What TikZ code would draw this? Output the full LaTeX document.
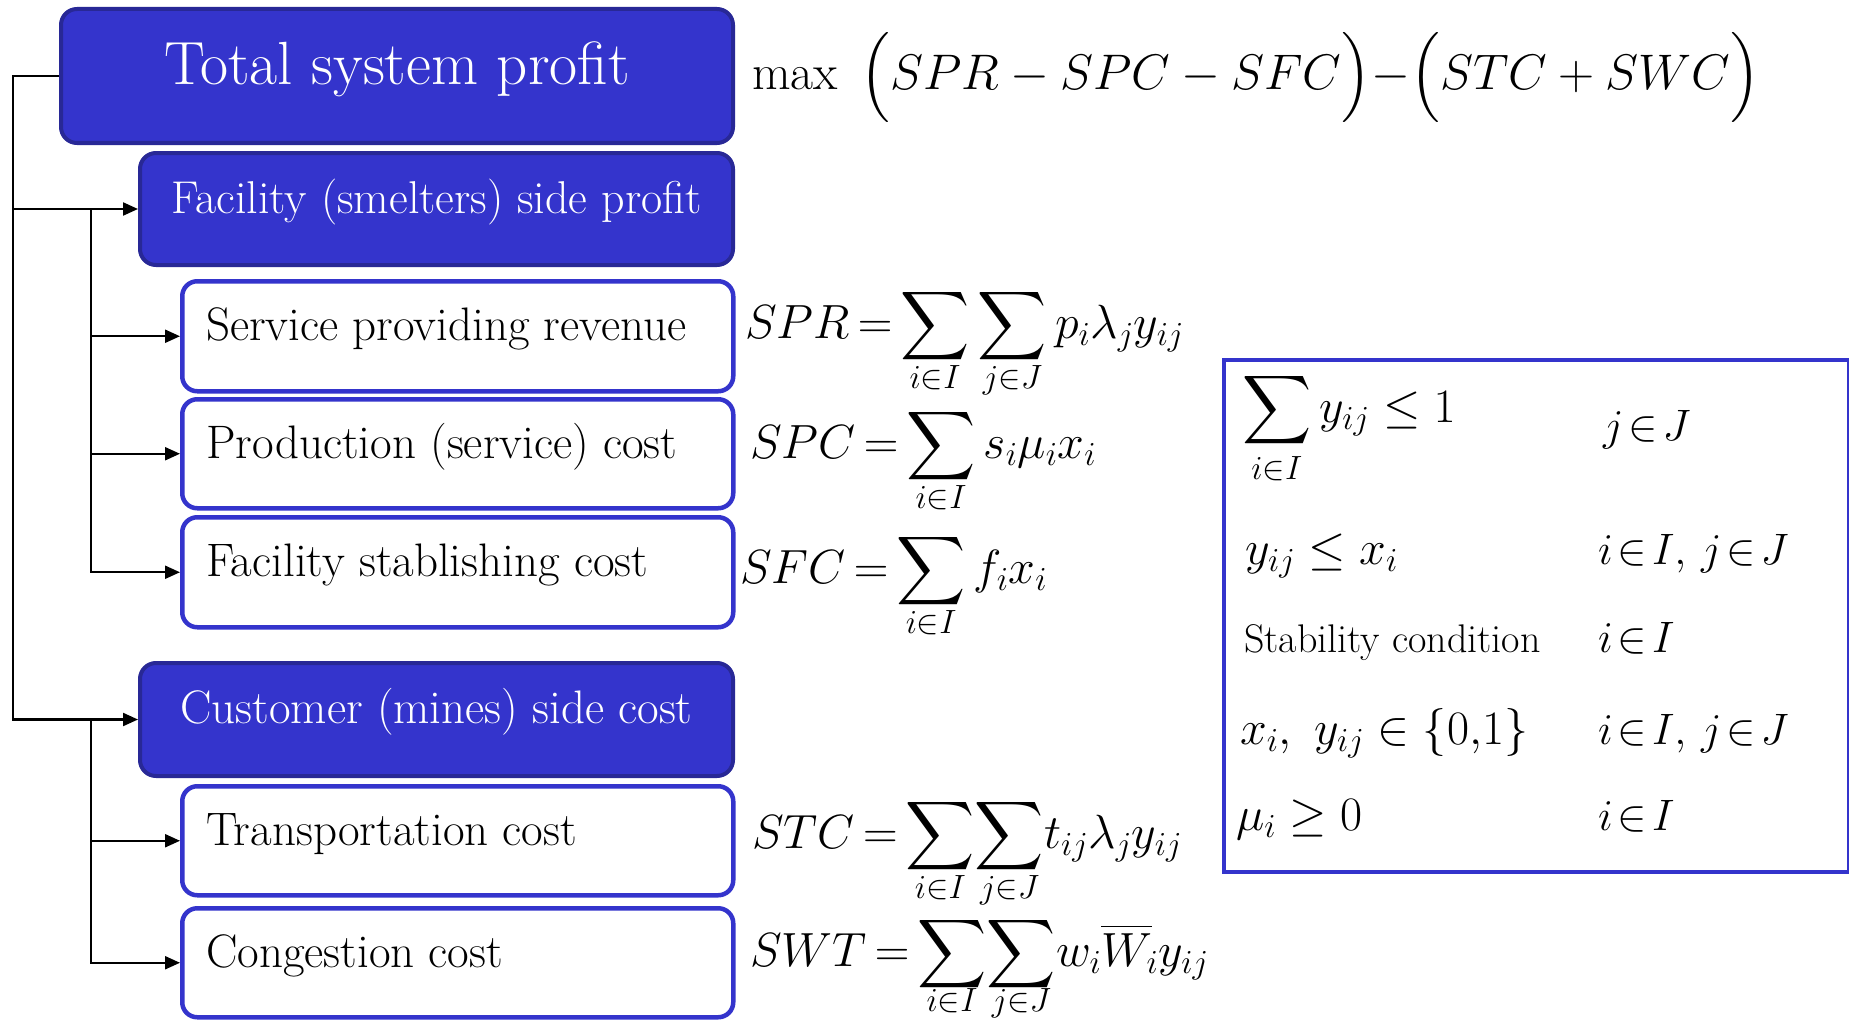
\RequirePackage{fix-cm}
\documentclass[tikz,border=0pt]{standalone}
\usepackage{amsmath}
\usepackage{fontspec}
\usetikzlibrary{arrows.meta}
% large operators scale with the font size
\DeclareFontShape{OMX}{cmex}{m}{n}{<->cmex10}{}

\definecolor{boxfill}{RGB}{52,52,204}
\definecolor{boxedge}{RGB}{40,40,150}
\definecolor{lineblue}{RGB}{52,52,204}

\tikzset{
  head/.style={draw=boxedge, line width=4pt, fill=boxfill, rounded corners=16pt,
               anchor=north west, inner sep=0pt},
  item/.style={draw=lineblue, line width=4.5pt, fill=white, rounded corners=15pt,
               anchor=north west, inner sep=0pt},
  headtext/.style={text=white, inner sep=0pt},
  itemtext/.style={font=\fontsize{47}{56}\selectfont, anchor=west, inner sep=0pt},
  link/.style={line width=2.2pt, draw=black},
  arr/.style={link, -{Triangle[length=15pt,width=13pt]}},
  eq/.style={anchor=base west, inner sep=0pt, font=\fontsize{48}{58}\selectfont},
  side/.style={anchor=base west, inner sep=0pt, font=\fontsize{44}{53}\selectfont},
  conbox/.style={draw=lineblue, line width=4pt, anchor=north west, inner sep=0pt},
}
\newcommand{\inn}{\mkern2mu{\in}\mkern2mu}
\newcommand{\eqsign}{\mathrel{\mkern-2mu=\mkern-2mu}}
% display sum with its lower limit set at a given depth below the baseline
\newcommand{\bigsum}[2][50pt]{\mathop{\ooalign{$\displaystyle\sum$\cr
  \hidewidth\raisebox{-#1}[0pt][0pt]{$\scriptstyle #2$}\hidewidth\cr}}}

\begin{document}
\begin{tikzpicture}[x=1pt,y=-1pt]
\useasboundingbox (0,0) rectangle (1849,1022);

% objective tree: headings
\node[head, minimum width=672pt, minimum height=134pt] (tot) at (59,7) {};
\node[headtext, font=\fontsize{61}{72}\selectfont] (totlbl) at ([yshift=7pt]tot.center) {Total system profit};

\node[head, minimum width=593pt, minimum height=112pt] (fac) at (138,151) {};
\node[headtext, font=\fontsize{46}{55}\selectfont] (faclbl) at ([yshift=7pt]fac.center) {Facility (smelters) side profit};

\node[item, minimum width=551pt, minimum height=110pt] (spr) at (180,279) {};
\node[itemtext] (sprlbl) at ([xshift=26pt,yshift=7pt]spr.west) {Service providing revenue};

\node[item, minimum width=551pt, minimum height=109pt] (spc) at (180,397) {};
\node[itemtext] (spclbl) at ([xshift=26pt,yshift=7pt]spc.west) {Production (service) cost};

\node[item, minimum width=551pt, minimum height=110pt] (sfc) at (180,515) {};
\node[itemtext] (sfclbl) at ([xshift=26pt,yshift=7pt]sfc.west) {Facility stablishing cost};

\node[head, minimum width=593pt, minimum height=113pt] (cust) at (138,661) {};
\node[headtext, font=\fontsize{47}{56}\selectfont] (custlbl) at ([yshift=8pt]cust.center) {Customer (mines) side cost};

\node[item, minimum width=551pt, minimum height=109pt] (stc) at (180,784) {};
\node[itemtext] (stclbl) at ([xshift=26pt,yshift=7pt]stc.west) {Transportation cost};

\node[item, minimum width=551pt, minimum height=109pt] (swt) at (180,906) {};
\node[itemtext] (swtlbl) at ([xshift=26pt,yshift=7pt]swt.west) {Congestion cost};

% connectors
\coordinate (spine) at (13,0);
\coordinate (fork) at (91,0);
\draw[arr] (tot.west) -- (spine |- tot.west) |- (cust.west);
\draw[arr] (spine |- fac.west) -- (fac.west);
\draw[arr] (fork |- fac.west) |- (spr.west);
\draw[arr] (fork |- fac.west) |- (spc.west);
\draw[arr] (fork |- fac.west) |- (sfc.west);
\draw[arr] (fork |- cust.west) |- (stc.west);
\draw[arr] (fork |- cust.west) |- (swt.west);

% objective and its terms
\node[eq, font=\fontsize{50}{60}\selectfont] (obj) at (752,90)
  {$\max\;\,\Bigl(SPR-SPC-SFC\Bigr){-}\Bigl(STC+SWC\Bigr)$};
\node[eq] (eqspr) at (745,338) {$SPR\eqsign\bigsum{i\in I}\bigsum{j\in J}p_i\lambda_j y_{ij}$};
\node[eq] (eqspc) at (750,458) {$SPC\eqsign\bigsum{i\in I}s_i\mu_i x_i$};
\node[eq] (eqsfc) at (740,583) {$SFC\eqsign\bigsum{i\in I}f_i x_i$};
\node[eq] (eqstc) at (752,848) {$STC\eqsign\bigsum{i\in I}\!\bigsum{j\in J}\!t_{ij}\lambda_j y_{ij}$};
\node[eq] (eqswt) at (750,966) {$SWT\eqsign\bigsum[45pt]{i\in I}\!\bigsum[45pt]{j\in J}\!w_i\overline{W}_{\!i} y_{ij}$};

% constraints
\node[conbox, minimum width=625pt, minimum height=512pt] (cons) at (1222,358) {};
\node[eq] (c1) at (1242,422) {$\displaystyle\sum_{i\in I} y_{ij}\le 1$};
\node[side] (c1r) at (1603,440) {$j\inn J$};
\node[eq] (c2) at (1245,564) {$y_{ij}\le x_i$};
\node[side] (c2r) at (1598,564) {$i\inn I,\,j\inn J$};
\node[eq, font=\fontsize{40}{48}\selectfont] (c3) at (1244,652) {Stability condition};
\node[side] (c3r) at (1598,652) {$i\inn I$};
\node[eq] (c4) at (1240,744) {$x_i,\ y_{ij}\in\{0{,}1\}$};
\node[side] (c4r) at (1598,744) {$i\inn I,\,j\inn J$};
\node[eq] (c5) at (1236,830) {$\mu_i\ge 0$};
\node[side] (c5r) at (1598,830) {$i\inn I$};
\end{tikzpicture}
\end{document}
